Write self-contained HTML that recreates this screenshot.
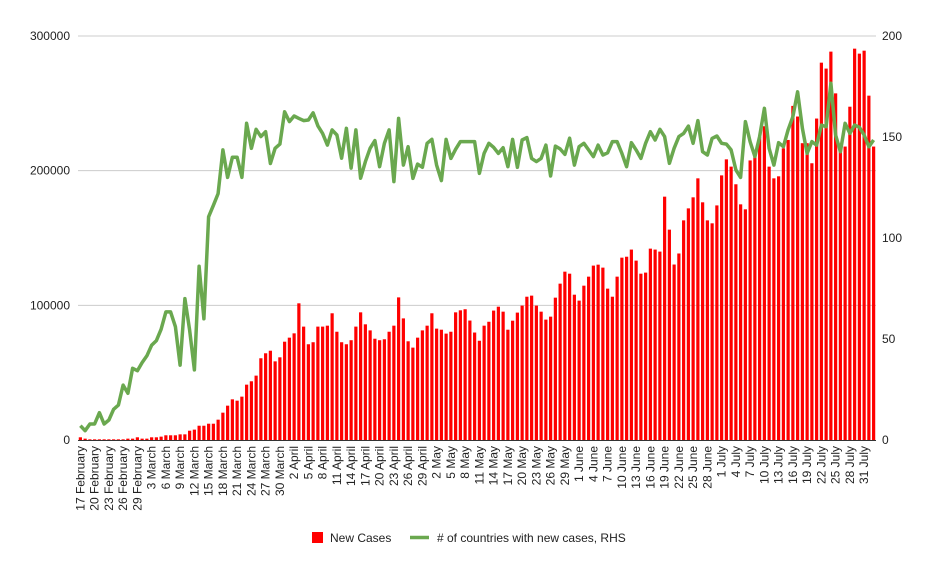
<!DOCTYPE html>
<html><head><meta charset="utf-8">
<style>
html,body{margin:0;padding:0;background:#fff;}
svg{display:block;font-family:"Liberation Sans",Arial,sans-serif;}
</style></head>
<body>
<svg id="chart" width="932" height="574" viewBox="0 0 932 574" xmlns="http://www.w3.org/2000/svg">
  <g id="grid"></g>
  <g id="bars"></g>
  <g id="line"></g>
  <g id="yleft"></g>
  <g id="yright"></g>
  <g id="xaxis"></g>
  <g>
    <g>
      <rect x="312" y="532" width="11" height="11" fill="#ff0000"></rect>
      <text x="330" y="542" font-size="12" fill="#222">New Cases</text>
    </g>
    <g>
      <line x1="410" y1="537.5" x2="429" y2="537.5" stroke="#6aa84f" stroke-width="3.5"></line>
      <text x="437" y="542" font-size="12" fill="#222"># of countries with new cases, RHS</text>
    </g>
  </g>
</svg>
<script>
const startDate = [2020, 1, 17];
const newCases = [2000,1000,500,500,500,500,500,500,500,500,1000,1000,2000,1000,1000,2000,2000,2500,3500,3500,3500,4200,4200,6900,7700,10600,10600,12100,12100,15100,20300,25500,30200,29200,32200,41100,43600,47800,60700,64400,66300,58400,61400,
73000,76000,79200,101500,84200,71100,72600,84200,84200,84900,94100,80400,72600,71100,74100,84200,94800,85900,81400,75200,74100,74800,80400,84900,105900,90300,73300,68600,76000,81400,84900,94100,82700,81900,79000,80400,94800,96300,97100,88700,79800,73700,84900,87800,96100,99000,95300,81900,88600,94600,99800,106400,107200,99800,95300,89400,91600,105700,116100,125000,123500,107900,103500,114600,121300,129500,130200,128000,112400,106400,121300,135400,136100,141400,133200,123500,124300,142100,141400,139900,180700,156200,130300,138500,163100,172000,180200,194300,176500,163100,160900,174200,196500,208400,203000,189900,175000,171300,207600,210000,225000,233000,203000,194300,195800,216600,222800,248100,240200,220400,220400,205500,238700,280200,275800,288400,257400,217900,217900,247500,290600,286900,289100,255700,217900];
const countries = [7.1,4.6,7.9,7.9,13.5,7.9,9.9,15.2,17.3,27.2,23.1,35.5,34.3,38.3,41.7,46.9,49.2,54.8,63.4,63.4,56.1,37.1,70,54.5,34.7,86,60,110.5,116.2,122,143.6,130,140,140,130,156.8,144.4,153.8,150.2,152.6,136.9,144.4,146.5,162.5,157.6,160.4,159.2,158.1,158.4,162,155.5,151.8,146,153.5,151,139.5,154.3,134.6,153.5,129.6,137.8,144.4,148.2,135.3,
146.9,153.5,127.9,159.2,136.1,145.2,129.5,136.6,135,146.9,148.8,136.1,128.4,148.8,139.4,143.9,147.7,147.7,147.7,147.7,132,141.9,146.9,144.9,141.9,144.7,135.3,148.8,135,148.5,149.7,139.4,137.8,139.4,146,130.7,145.5,144.1,141.4,149.4,
136.1,145.2,146.9,143.6,140.3,146,141.1,142.2,147.7,147.7,141.9,135.3,147.2,143.6,139.4,146.9,152.6,148.5,153.8,150.2,137,144.4,150.2,151.8,155.4,146.9,158.1,142.7,141.1,149.3,150.5,146.9,146.5,143.6,133.7,130,157.6,147.7,140.3,150.2,
164.2,144.4,136.1,147.2,145.2,153.5,160.1,172.4,154.3,141.9,147.7,146,155.9,155.1,176.6,151,142.7,156.8,151.8,155.9,154.8,151,145.2,148.5];
const leftTicks = [0,100000,200000,300000];
const leftTickLabels = ["0","100000","200000","300000"];
const rightTicks = [0,50,100,150,200];
const rightTickLabels = ["0","50","100","150","200"];
const monthNames = ["January","February","March","April","May","June","July","August"];

const NS = "http://www.w3.org/2000/svg";
const X0 = 78, X1 = 876, Y0 = 440, Y1 = 36;
const n = newCases.length;
const step = (X1 - X0) / n;
function xPos(i){ return X0 + step * (i + 0.5); }
function yLeft(v){ return Y0 - (v / 300000) * (Y0 - Y1); }
function yRight(v){ return Y0 - (v / 200) * (Y0 - Y1); }
function mk(tag, attrs, parent){
  const el = document.createElementNS(NS, tag);
  for (const k in attrs) el.setAttribute(k, attrs[k]);
  parent.appendChild(el);
  return el;
}
const grid = document.getElementById('grid');
leftTicks.forEach((t, i) => {
  if (t === 0) return;
  const l = mk('line', {x1: X0, x2: X1, y1: yLeft(t), y2: yLeft(t), stroke: '#cccccc', 'stroke-width': 1}, grid);
  
  
});
const yl = document.getElementById('yleft');
leftTicks.forEach((t, i) => {
  const tx = mk('text', {x: 70, y: yLeft(t) + 4, 'text-anchor': 'end', 'font-size': 12, fill: '#222'}, yl);
  tx.textContent = leftTickLabels[i];
  
  
});
const yr = document.getElementById('yright');
rightTicks.forEach((t, i) => {
  const tx = mk('text', {x: 882, y: yRight(t) + 4, 'text-anchor': 'start', 'font-size': 12, fill: '#222'}, yr);
  tx.textContent = rightTickLabels[i];
  
  
});
const bars = document.getElementById('bars');
newCases.forEach((v, i) => {
  const y = yLeft(v);
  const r = mk('rect', {x: xPos(i) - 1.6, y: y, width: 3.2, height: Y0 - y, fill: '#ff0000'}, bars);
  
  
});
const lineG = document.getElementById('line');
const pts = countries.map((v, i) => xPos(i).toFixed(1) + ',' + yRight(v).toFixed(1)).join(' ');
const pl = mk('polyline', {points: pts, fill: 'none', stroke: '#6aa84f', 'stroke-width': 3.5, 'stroke-linejoin': 'round'}, lineG);


const xa = document.getElementById('xaxis');
const ax = mk('line', {x1: X0, x2: X1, y1: Y0 + 0.5, y2: Y0 + 0.5, stroke: '#333', 'stroke-width': 1}, xa);


const d0 = new Date(startDate[0], startDate[1], startDate[2]);
for (let i = 0; i < n; i += 3) {
  const d = new Date(d0.getTime());
  d.setDate(d.getDate() + i);
  const x = xPos(i) + 4;
  const tx = mk('text', {x: 0, y: 0, transform: 'translate(' + x.toFixed(1) + ',446) rotate(-90)', 'text-anchor': 'end', 'font-size': 12, fill: '#222'}, xa);
  tx.textContent = d.getDate() + ' ' + monthNames[d.getMonth()];
  
  
}
</script>
</body></html>
